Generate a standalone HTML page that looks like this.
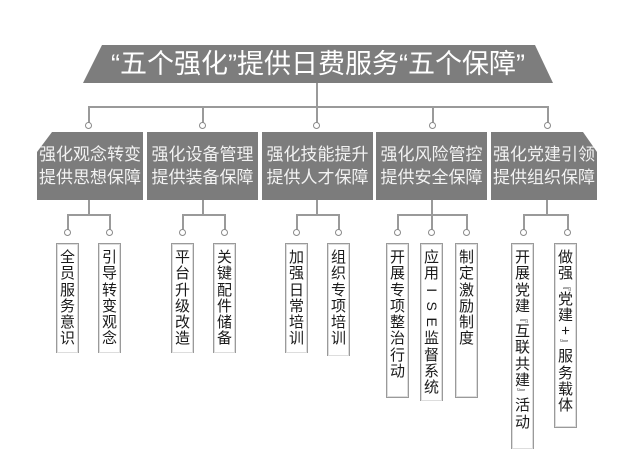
<!DOCTYPE html>
<html><head><meta charset="utf-8"><style>
body{margin:0;width:640px;height:453px;background:#fff;position:relative;overflow:hidden;font-family:"Liberation Sans","Noto Sans CJK SC",sans-serif}
.a{position:absolute}
.l{position:absolute;background:#9a9a9a}
.c{position:absolute;width:5px;height:5px;border:1.5px solid #8a8a8a;border-radius:50%;background:#fff}
.b{position:absolute;top:132px;height:68px;color:#f2f2f2;font-size:17px;line-height:23px;text-align:center;padding-top:11px;box-sizing:border-box;white-space:nowrap}
.v{position:absolute;top:243px;width:21px;border:1.5px solid #9a9a9a;box-shadow:inset 0 0 0 1px #ddd;background:#fff;font-size:15px;line-height:16.3px;color:#1a1a1a;padding-top:5px;text-align:center;font-family:"Noto Sans CJK SC",sans-serif}
.o{border-bottom:none}
.r{display:inline-block;transform:rotate(90deg);font-size:14px;font-family:"Liberation Sans",sans-serif}
.k{display:block;height:9px;line-height:9px;font-size:11px;overflow:hidden}
</style></head><body>
<svg class="a" style="left:0;top:0" width="640" height="453">
<polygon points="102,45 535,45 553,83 83,83" fill="#7d7d7d"/>
<polygon points="147,132 258,132 258,200 147,200" fill="#7c7c7c"/>
<polygon points="262,132 373,132 373,200 262,200" fill="#7c7c7c"/>
<polygon points="376,132 487,132 487,200 376,200" fill="#7c7c7c"/>
<polygon points="52,132 143,132 143,200 37,200 37,152" fill="#7c7c7c"/>
<polygon points="491,132 583,132 597,152 597,200 491,200" fill="#7c7c7c"/>
</svg>
<div class="a" style="left:83px;top:47px;width:470px;text-align:center;color:#fff;font-size:27px;line-height:34px;white-space:nowrap;font-family:'Liberation Sans','Noto Sans CJK SC',sans-serif">“五个强化”提供日费服务“五个保障”</div>
<div class="l" style="left:316px;top:83px;width:2px;height:24px"></div>
<div class="l" style="left:88px;top:106px;width:460px;height:2px"></div>
<div class="l" style="left:88px;top:106px;width:2px;height:17px"></div>
<div class="l" style="left:202px;top:106px;width:2px;height:17px"></div>
<div class="l" style="left:316px;top:106px;width:2px;height:17px"></div>
<div class="l" style="left:432px;top:106px;width:2px;height:17px"></div>
<div class="l" style="left:547px;top:106px;width:2px;height:17px"></div>
<div class="c" style="left:85px;top:122px"></div>
<div class="c" style="left:199px;top:122px"></div>
<div class="c" style="left:313px;top:122px"></div>
<div class="c" style="left:429px;top:122px"></div>
<div class="c" style="left:544px;top:122px"></div>
<div class="b" style="left:37px;width:106px">强化观念转变<br>提供思想保障</div>
<div class="b" style="left:147px;width:111px">强化设备管理<br>提供装备保障</div>
<div class="b" style="left:262px;width:111px">强化技能提升<br>提供人才保障</div>
<div class="b" style="left:376px;width:111px">强化风险管控<br>提供安全保障</div>
<div class="b" style="left:491px;width:106px">强化党建引领<br>提供组织保障</div>
<div class="l" style="left:88px;top:200px;width:2px;height:15px"></div>
<div class="l" style="left:67px;top:214px;width:44px;height:2px"></div>
<div class="l" style="left:202px;top:200px;width:2px;height:15px"></div>
<div class="l" style="left:182px;top:214px;width:44px;height:2px"></div>
<div class="l" style="left:316px;top:200px;width:2px;height:15px"></div>
<div class="l" style="left:296px;top:214px;width:44px;height:2px"></div>
<div class="l" style="left:431px;top:200px;width:2px;height:15px"></div>
<div class="l" style="left:397px;top:214px;width:71px;height:2px"></div>
<div class="l" style="left:546px;top:200px;width:2px;height:15px"></div>
<div class="l" style="left:523px;top:214px;width:46px;height:2px"></div>
<div class="l" style="left:67px;top:214px;width:2px;height:16px"></div>
<div class="l" style="left:109px;top:214px;width:2px;height:16px"></div>
<div class="l" style="left:182px;top:214px;width:2px;height:16px"></div>
<div class="l" style="left:224px;top:214px;width:2px;height:16px"></div>
<div class="l" style="left:296px;top:214px;width:2px;height:16px"></div>
<div class="l" style="left:338px;top:214px;width:2px;height:16px"></div>
<div class="l" style="left:397px;top:214px;width:2px;height:16px"></div>
<div class="l" style="left:431px;top:214px;width:2px;height:16px"></div>
<div class="l" style="left:466px;top:214px;width:2px;height:16px"></div>
<div class="l" style="left:523px;top:214px;width:2px;height:16px"></div>
<div class="l" style="left:567px;top:214px;width:2px;height:16px"></div>
<div class="c" style="left:64px;top:229px"></div>
<div class="c" style="left:106px;top:229px"></div>
<div class="c" style="left:179px;top:229px"></div>
<div class="c" style="left:221px;top:229px"></div>
<div class="c" style="left:293px;top:229px"></div>
<div class="c" style="left:335px;top:229px"></div>
<div class="c" style="left:394px;top:229px"></div>
<div class="c" style="left:428px;top:229px"></div>
<div class="c" style="left:463px;top:229px"></div>
<div class="c" style="left:520px;top:229px"></div>
<div class="c" style="left:564px;top:229px"></div>
<div class="v o" style="left:56px;height:104px">全<br>员<br>服<br>务<br>意<br>识</div>
<div class="v o" style="left:98px;height:104px">引<br>导<br>转<br>变<br>观<br>念</div>
<div class="v o" style="left:171px;height:104px">平<br>台<br>升<br>级<br>改<br>造</div>
<div class="v o" style="left:213px;height:104px">关<br>键<br>配<br>件<br>储<br>备</div>
<div class="v o" style="left:285px;height:104px">加<br>强<br>日<br>常<br>培<br>训</div>
<div class="v o" style="left:327px;height:107px">组<br>织<br>专<br>项<br>培<br>训</div>
<div class="v" style="left:386px;height:148px">开<br>展<br>专<br>项<br>整<br>治<br>行<br>动</div>
<div class="v o" style="left:420px;height:152px">应<br>用<br><span class="r">I</span><br><span class="r">S</span><br><span class="r">E</span><br>监<br>督<br>系<br>统</div>
<div class="v" style="left:455px;height:148px">制<br>定<br>激<br>励<br>制<br>度</div>
<div class="v o" style="left:511px;height:200px">开<br>展<br>党<br>建<span class="k">﹃</span>互<br>联<br>共<br>建<span class="k">﹄</span>活<br>动</div>
<div class="v" style="left:554px;height:178px">做<br>强<span class="k">﹃</span>党<br>建<br>+<span class="k">﹄</span>服<br>务<br>载<br>体</div>
</body></html>
